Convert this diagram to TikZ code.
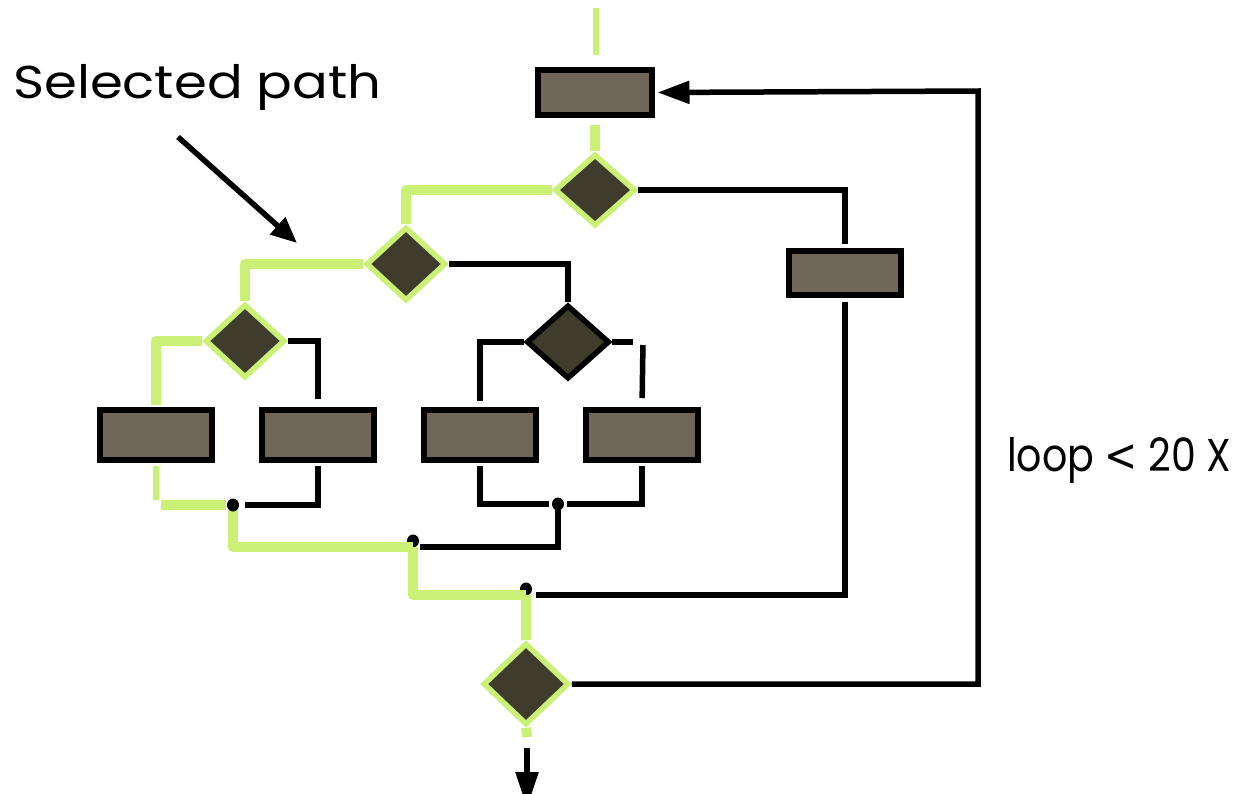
\documentclass[tikz,border=0pt]{standalone}
\usepackage{fontspec}
\setmainfont{Poppins}
\newfontfamily\symfont{DejaVu Sans}
\usetikzlibrary{shapes.geometric,arrows.meta,calc}
\definecolor{selgreen}{RGB}{202,241,118}
\definecolor{boxfill}{RGB}{113,103,88}
\definecolor{decfill}{RGB}{63,60,46}
\tikzset{
 procbox/.style={rectangle, draw=black, line width=6pt, fill=boxfill, minimum width=112pt, minimum height=50pt, inner sep=0pt},
 decision/.style={diamond, line width=5.5pt, fill=decfill, minimum width=80pt, minimum height=74pt, inner sep=0pt},
 seldec/.style={decision, draw=selgreen},
 plaindec/.style={decision, draw=black},
 wire/.style={draw=black, line width=5.5pt},
 selwire/.style={draw=selgreen, line width=10pt, line join=round},
 selthin/.style={draw=selgreen, line width=5.5pt},
 junction/.style={ellipse, fill=black, inner sep=0pt, minimum width=12pt, minimum height=13pt},
 bigtext/.style={font=\fontsize{46}{55}\selectfont, anchor=base west, inner sep=0pt},
 headL/.style={-{Triangle[length=32pt,width=22pt]}},
 headD/.style={-{Triangle[length=36pt,width=22pt]}},
 headS/.style={-{Triangle[length=26pt,width=22pt]}},
}
\begin{document}
\begin{tikzpicture}[x=1pt,y=-1pt]
\useasboundingbox (0,0) rectangle (1244,793);
\clip (0,0) rectangle (1244,793);

% shapes
\node[procbox, minimum width=114pt, minimum height=45pt] (b1) at (595,92.5) {};
\node[seldec, minimum width=81pt, minimum height=72pt] (d1) at (595,190) {};
\node[seldec] (d2) at (406,264) {};
\node[seldec] (d3) at (245,341) {};
\node[plaindec, minimum width=83pt] (d4) at (568,342) {};
\node[procbox, minimum height=44pt] (bR) at (845,273) {};
\node[procbox] (bLL) at (156,435) {};
\node[procbox] (bLR) at (318,435) {};
\node[procbox] (bML) at (480,435) {};
\node[procbox] (bMR) at (642,435) {};
\node[seldec, minimum width=86pt, minimum height=82pt] (d5) at (526,684) {};

% points
\coordinate (src) at (596,8);
\coordinate (srcend) at (596,55);
\coordinate (j1) at (233,505);
\coordinate (j2) at (413,547);
\coordinate (j3) at (526,595);
\coordinate (j5) at (558,504);
\coordinate (lr) at (978,91);
\coordinate (k4) at (643,342);
\coordinate (g5) at (527,737);
\coordinate (o1) at (527,748);
\coordinate (o2) at (527,808);
\coordinate (sa1) at (178,137);
\coordinate (sa2) at (297,243);

% dots under the green path
\node[junction] (n2) at ([yshift=6pt]j2) {};
\node[junction] (n3) at ([yshift=6pt]j3) {};

% upper connectors
\draw[selthin] (src) -- (srcend);
\draw[selwire, shorten <=7pt] (b1.south) -- (d1.north);
\draw[selwire] (d1.west) -| (d2.north);
\draw[selwire] (d2.west) -| (d3.north);
\draw[selwire, shorten >=2pt] (d3.west) -| (bLL.north);
\draw[wire, shorten >=4pt] (d1.east) -| (bR.north);
\draw[wire] (d2.east) -| (d4.north);
\draw[wire, shorten >=8pt] (d3.east) -| (bLR.north);
\draw[wire, shorten >=6pt] (d4.west) -| (bML.north);
\draw[wire] (d4.east) -- ([xshift=-10pt]k4);
\draw[wire, shorten <=3pt, shorten >=9pt] (k4) -- (bMR.north);

% lower connectors
\draw[selthin, shorten <=3pt, shorten >=5pt] (bLL.south) -- (bLL.south |- j1);
\draw[selwire, shorten <=5pt, shorten >=7pt] (bLL.south |- j1) -- (j1);
\draw[wire, shorten <=3pt, shorten >=12pt] (bLR.south) |- (j1);
\draw[selwire, shorten <=5pt] (j1) |- (j2);
\draw[wire, shorten <=3pt, shorten >=9pt] (bML.south) |- (j5);
\draw[wire, shorten <=3pt, shorten >=9pt] (bMR.south) |- (j5);
\draw[wire, shorten >=7pt] (j5) |- (j2);
\draw[selwire] (j2) |- (j3);
\draw[wire, shorten <=4pt, shorten >=10pt] (bR.south) |- (j3);
\draw[selwire] (j3) -- (d5.north);
\draw[wire, shorten >=2.5pt, headL] (d5.east) -| (lr) -- (b1.east);
\draw[selwire] (d5.south) -- (g5);
\draw[wire, headD] (o1) -- (o2);

\node[junction] (n1) at (j1) {};
\node[junction] (n5) at (j5) {};

% labels
\draw[wire, headS] (sa1) -- (sa2);
\node[bigtext] (sel) at (13,98) {\scalebox{1.15}[1]{Selected path}};
\node[bigtext] (loop) at (1007,471) {\scalebox{0.86}[1]{loop {\symfont\fontsize{46}{52}\selectfont <} 20 X}};
\end{tikzpicture}
\end{document}
